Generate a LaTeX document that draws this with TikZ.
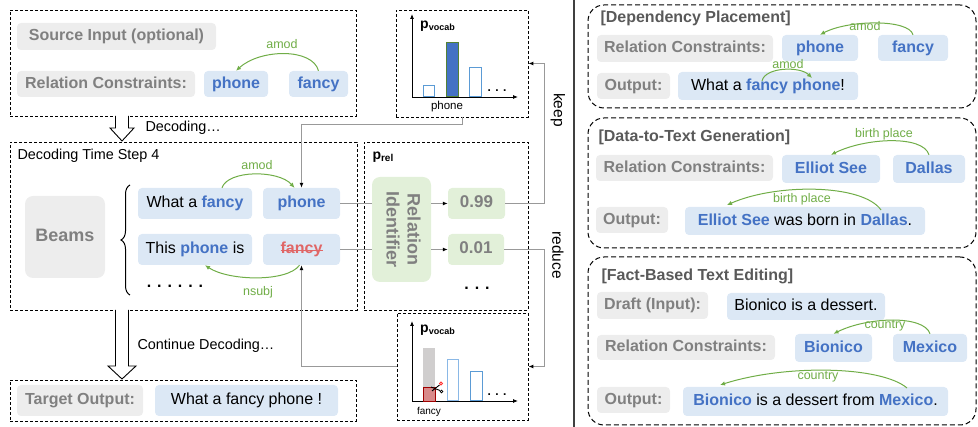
\documentclass[tikz,border=0pt]{standalone}
\usepackage{fontspec}
\setmainfont{Liberation Sans}
\usepackage{graphicx}
\usetikzlibrary{arrows.meta,decorations.pathreplacing,calc}
\definecolor{bxgray}{HTML}{EDEDED}
\definecolor{txgray}{HTML}{808080}
\definecolor{ttgray}{HTML}{595959}
\definecolor{bxblue}{HTML}{DCE8F5}
\definecolor{txblue}{HTML}{4472C4}
\definecolor{grn}{HTML}{70AD47}
\definecolor{bxgrn}{HTML}{E2F0D9}
\definecolor{rd}{HTML}{E06666}
\definecolor{lnk}{HTML}{999999}
\definecolor{barbl}{HTML}{5B9BD5}
\definecolor{barlb}{HTML}{8AB8E6}
\definecolor{bargr}{HTML}{548235}
\definecolor{bargy}{HTML}{D0CECE}
\definecolor{barrd}{HTML}{D88A8A}
\definecolor{dkrd}{HTML}{A00000}
\newcommand\fsz[2]{\fontsize{#1}{#2}\selectfont}
\newcommand\bw[1]{\textcolor{txblue}{\textbf{#1}}}
\begin{document}
\begin{tikzpicture}[x=1pt,y=1pt,
  box/.style={rounded corners=4pt, inner sep=0pt, text height=11.5pt, text depth=3.2pt},
  gbox/.style={box, fill=bxgray, text=txgray, font=\fsz{16}{19}\bfseries},
  wbox/.style={box, fill=bxblue, text=txblue, font=\fsz{16}{19}\bfseries},
  sbox/.style={box, fill=bxblue, text=black, font=\fsz{16}{19}},
  nbox/.style={box, fill=bxgrn, text=txgray, font=\fsz{17}{20}\bfseries},
  frame/.style={draw, dash pattern=on 3pt off 2pt, line width=0.8pt, inner sep=0pt},
  rframe/.style={draw, dash pattern=on 5pt off 3pt, line width=1pt, rounded corners=16pt, inner sep=0pt},
  garc/.style={grn, line width=1pt, -{Latex[length=5pt,width=4.5pt]}},
  glab/.style={text=grn, font=\fsz{12.5}{14}},
  lk/.style={lnk, line width=1pt},
  tipb/.style={-{Latex[length=5pt,width=4pt,color=black]}},
  ttl/.style={anchor=west, text=ttgray, font=\fsz{16}{19}\bfseries},
  axis/.style={line width=0.8pt, -{Latex[length=5pt,width=4pt]}},
  hbar/.style={line width=1pt}
]
\useasboundingbox (0,0) rectangle (978,-427);

% ---------- left: input frame ----------
\node[frame, minimum width=346, minimum height=106] (fr1) at (183,-63) {};
\node[gbox, minimum width=199, minimum height=27] (src) at (116.5,-36.5) {Source Input (optional)};
\node[gbox, minimum width=178, minimum height=26] (rc1) at (106,-84) {Relation Constraints:};
\node[wbox, minimum width=64, minimum height=26] (ph1) at (236,-84) {phone};
\node[wbox, minimum width=59, minimum height=26] (fa1) at (318.5,-84) {fancy};
\draw[garc] (fa1.north) .. controls +(-6,23) and +(24,22) .. (ph1.north);
\node[glab] (l1) at (282,-44) {amod};

% hollow arrow 1
\draw[line width=0.9pt, fill=white] (115.5,-116) -- (115.5,-128) -- (110,-128) -- (122,-141) -- (134,-128) -- (128.5,-128) -- (128.5,-116);
\node[anchor=west, font=\fsz{14.4}{17}] (dec) at (142,-128) {Decoding…};

% ---------- decoding time step frame ----------
\node[frame, minimum width=347, minimum height=168] (fr2) at (183.5,-226) {};
\node[anchor=west, font=\fsz{14.4}{17}] (ts) at (14,-156) {Decoding Time Step 4};
\node[box, fill=bxgray, text=txgray, font=\fsz{18}{21}\bfseries, rounded corners=8pt, minimum width=80, minimum height=82] (beams) at (65,-237) {Beams};
\draw[line width=1pt, decorate, decoration={brace, amplitude=9pt}] (130,-295) -- (130,-185);
\node[sbox, minimum width=114, minimum height=31] (b1a) at (195,-203.5) {What a \bw{fancy}};
\node[wbox, minimum width=77, minimum height=31] (b1b) at (301.5,-203.5) {phone};
\node[sbox, minimum width=114, minimum height=31] (b2a) at (195,-249.5) {This \bw{phone} is};
\node[box, fill=bxblue, text=rd, font=\fsz{16}{19}\bfseries, minimum width=77, minimum height=31] (b2b) at (301.5,-249.5) {fancy};
\draw[rd, line width=1pt] ([xshift=-21pt,yshift=-1pt]b2b.center) -- ([xshift=21pt,yshift=-1pt]b2b.center);
\node[anchor=base, font=\fsz{16}{19}\bfseries] (bd) at (175,-288) {. . . . . .};
\draw[garc] ([xshift=27pt]b1a.north) .. controls +(6,18) and +(-16,18) .. ([xshift=-7pt]b1b.north);
\node[glab] (l2) at (257,-165) {amod};
\draw[garc] ([xshift=-2pt]b2b.south) .. controls +(-12,-17) and +(24,-16) .. ([xshift=10pt]b2a.south);
\node[glab] (l3) at (258,-292) {nsubj};

% ---------- p_rel frame ----------
\node[frame, minimum width=164, minimum height=168] (fr3) at (446,-226) {};
\node[anchor=west, font=\fsz{14}{17}\bfseries] (prel) at (369,-157) {p\raisebox{-2.5pt}{\fsz{10}{12}\bfseries rel}};
\node[box, fill=bxgrn, text=txgray, font=\fsz{18}{22}\bfseries, rounded corners=8pt, text height=, text depth=, minimum width=59, minimum height=105] (relid) at (401.5,-229.5)
  {\rotatebox{-90}{\begin{tabular}{@{}c@{}}Relation\\[-1pt]Identifier\end{tabular}}};
\node[nbox, minimum width=57, minimum height=31] (s1) at (476.5,-203.5) {0.99};
\node[nbox, minimum width=56, minimum height=31] (s2) at (476,-249.5) {0.01};
\node[anchor=base, font=\fsz{16}{19}\bfseries] (pd) at (477,-290) {. . .};
\draw[lk] (b1b.east) -- (b1b.east -| relid.west);
\draw[lk] (b2b.east) -- (b2b.east -| relid.west);
\draw[lk, tipb] (s1.west -| relid.east) -- (s1.west);
\draw[lk, tipb] (s2.west -| relid.east) -- (s2.west);

% ---------- chart 1 ----------
\node[frame, minimum width=132, minimum height=107] (ch1) at (462,-63.5) {};
\draw[axis] (412,-97) -- (412,-14);
\draw[axis] (412,-97) -- (518,-97);
\node[anchor=west, font=\fsz{14}{17}\bfseries, inner sep=0pt] (pv1) at (420,-26) {p\raisebox{-2.5pt}{\fsz{9}{11}\bfseries vocab}};
\draw[hbar, barbl] (423,-86) rectangle (434,-97);
\draw[hbar, bargr, fill=txblue] (446,-43) rectangle (458,-97);
\draw[hbar, barbl] (469,-68) rectangle (481,-97);
\node[anchor=base, font=\fsz{12}{14}\bfseries] (cd1) at (497,-92) {. . .};
\node[font=\fsz{11.5}{13}] (cl1) at (447,-107) {phone};

% ---------- chart 2 ----------
\node[frame, minimum width=131, minimum height=107] (ch2) at (462.5,-366.5) {};
\draw[axis] (412,-401) -- (412,-321);
\draw[axis] (412,-401) -- (518,-401);
\node[anchor=west, font=\fsz{14}{17}\bfseries, inner sep=0pt] (pv2) at (420,-330) {p\raisebox{-2.5pt}{\fsz{9}{11}\bfseries vocab}};
\fill[bargy] (423,-348) rectangle (435,-401);
\draw[line width=0.8pt, dkrd, fill=barrd] (423,-387) rectangle (435,-401);
\draw[hbar, barlb] (447,-360) rectangle (458,-401);
\draw[hbar, barbl] (470,-372) rectangle (482,-401);
\node[anchor=base, font=\fsz{12}{14}\bfseries] (cd2) at (497,-396) {. . .};
\node[font=\fsz{10}{12}] (cl2) at (429,-412) {fancy};
% scissors
\draw[line width=0.9pt] (431,-387) -- (440,-390.5);
\draw[line width=0.9pt] (432,-391) -- (439.5,-385);
\draw[line width=0.8pt] (441.5,-391.5) circle (1.4);
\draw[line width=0.9pt, red!80] (441,-383.5) circle (1.6);

% connectors between charts and beams
\draw[lk, tipb] (ch1.south) -- ++(0,-7) -| (b1b.north);
\draw[lk, tipb] (ch2.west) -| (b2b.south);
\draw[lk, tipb] (s1.east) -| ([xshift=16pt]ch1.east) -- (ch1.east);
\draw[lk, tipb] (s2.east) -| ([xshift=16pt]ch2.east) -- (ch2.east);
\node[rotate=-90, font=\fsz{15.5}{18}] (keep) at (558,-110) {keep};
\node[rotate=-90, font=\fsz{15.5}{18}] (reduce) at (558,-255) {reduce};

% hollow arrow 2
\draw[line width=0.9pt, fill=white] (115.5,-310) -- (115.5,-366) -- (108,-366) -- (122,-379) -- (136,-366) -- (128.5,-366) -- (128.5,-310);
\node[anchor=west, font=\fsz{14.4}{17}] (cdec) at (134,-346) {Continue Decoding…};

% ---------- target frame ----------
\node[frame, minimum width=346, minimum height=41] (fr4) at (183,-400.5) {};
\node[gbox, minimum width=126, minimum height=31] (tg) at (80,-400.5) {Target Output:};
\node[sbox, minimum width=183, minimum height=31] (tgo) at (246.5,-400.5) {What a fancy phone !};

% divider
\draw[line width=1.2pt, black!75] (574,0) -- (574,-427);

% ---------- right panel 1 ----------
\node[rframe, minimum width=388, minimum height=103] (pa) at (782,-56.5) {};
\node[ttl] (ta) at (597,-18) {[Dependency Placement]};
\node[gbox, minimum width=176, minimum height=27] (rcA) at (685,-48.5) {Relation Constraints:};
\node[wbox, minimum width=76, minimum height=26] (phA) at (820,-48) {phone};
\node[wbox, minimum width=70, minimum height=26] (faA) at (913,-48) {fancy};
\draw[garc] (faA.north) .. controls +(-4,16) and +(28,15) .. (phA.north);
\node[glab] (la1) at (865,-26) {amod};
\node[gbox, minimum width=73, minimum height=26] (outA) at (633.5,-86) {Output:};
\node[sbox, minimum width=180, minimum height=28] (outAb) at (768,-86) {What a \bw{fancy phone}!};
\coordinate (aS) at (762,-81);
\coordinate (aE) at (812,-78);
\draw[garc] (aS) .. controls +(3,14) and +(-12,12) .. (aE);
\node[glab] (la2) at (788,-64) {amod};

% ---------- right panel 2 ----------
\node[rframe, minimum width=388, minimum height=130] (pb) at (782,-183) {};
\node[ttl] (tb) at (595,-137) {[Data-to-Text Generation]};
\node[gbox, minimum width=177, minimum height=26] (rcB) at (684.5,-168) {Relation Constraints:};
\node[wbox, minimum width=98, minimum height=28] (elB) at (831,-169) {Elliot See};
\node[wbox, minimum width=72, minimum height=28] (daB) at (929,-169) {Dallas};
\draw[garc] (daB.north) .. controls +(-6,20) and +(34,17) .. (elB.north);
\node[glab] (lb1) at (884,-134) {birth place};
\node[gbox, minimum width=72, minimum height=26] (outB) at (632,-220) {Output:};
\node[sbox, minimum width=240, minimum height=28] (outBb) at (805,-221) {\bw{Elliot See} was born in \bw{Dallas}.};
\coordinate (bS) at (881,-210);
\coordinate (bE) at (727,-205);
\draw[garc] (bS) .. controls +(-18,26) and +(50,22) .. (bE);
\node[glab] (lb2) at (802,-199) {birth place};

% ---------- right panel 3 ----------
\node[rframe, minimum width=388, minimum height=168] (pc) at (782,-341) {};
\node[ttl] (tc) at (598,-276) {[Fact-Based Text Editing]};
\node[gbox, minimum width=111, minimum height=27] (drC) at (652.5,-305.5) {Draft (Input):};
\node[sbox, minimum width=158, minimum height=27] (drCb) at (806,-306.5) {Bionico is a dessert.};
\node[gbox, minimum width=178, minimum height=25] (rcC) at (686,-347.5) {Relation Constraints:};
\node[wbox, minimum width=77, minimum height=28] (biC) at (833.5,-348) {Bionico};
\node[wbox, minimum width=74, minimum height=28] (meC) at (930,-348) {Mexico};
\draw[garc] (meC.north) .. controls +(-6,19) and +(34,17) .. (biC.north);
\node[glab] (lc1) at (885,-326) {country};
\node[gbox, minimum width=73, minimum height=26] (outC) at (633.5,-400) {Output:};
\node[sbox, minimum width=265, minimum height=29] (outCb) at (815.5,-401.5) {\bw{Bionico} is a dessert from \bw{Mexico}.};
\coordinate (cS) at (907,-388);
\coordinate (cE) at (720,-385);
\draw[garc] (cS) .. controls +(-26,22) and +(66,21) .. (cE);
\node[glab] (lc2) at (818,-377) {country};
\end{tikzpicture}
\end{document}
